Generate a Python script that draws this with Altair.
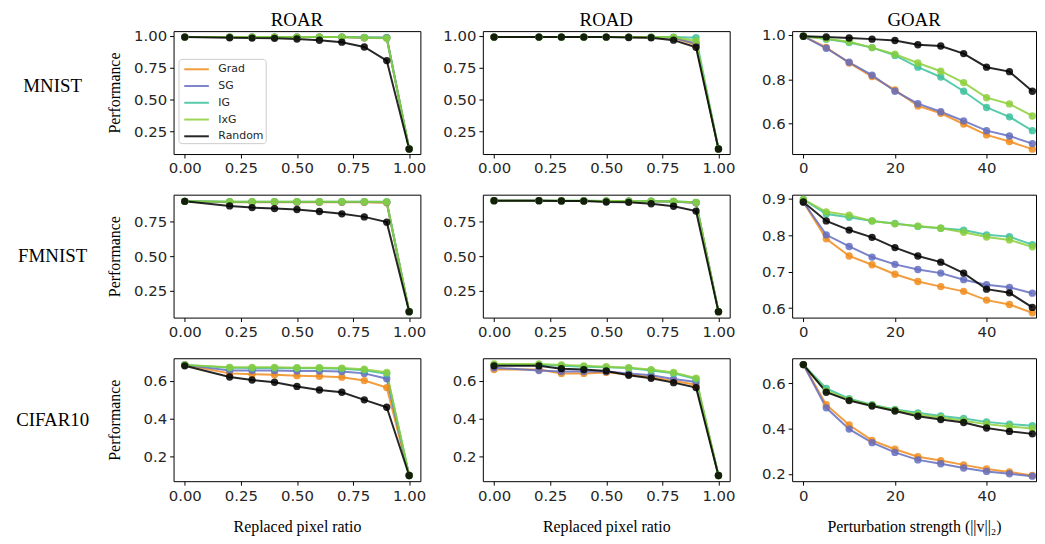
import altair as alt
import pandas as pd

SERIF = "Liberation Serif"
SANS = "DejaVu Sans"

methods = ["Grad", "SG", "IG", "IxG", "Random"]
method_colors = ["#f08c1c", "#646dc0", "#3cc19d", "#8ccf3a", "#000000"]

ratio = [0.0, 0.2, 0.3, 0.4, 0.5, 0.6, 0.7, 0.8, 0.9, 1.0]
strength = [0, 5, 10, 15, 20, 25, 30, 35, 40, 45, 50]

row_names = ["MNIST", "FMNIST", "CIFAR10"]
col_names = ["ROAR", "ROAD", "GOAR"]
x_titles = ["Replaced pixel ratio", "Replaced pixel ratio", "Perturbation strength (||v||\u2082)"]
y_title = "Performance"

ratio_ticks = [0.0, 0.25, 0.5, 0.75, 1.0]
strength_ticks = [0, 20, 40]
mnist_ticks = [0.25, 0.5, 0.75, 1.0]
fmnist_ticks = [0.25, 0.5, 0.75]
cifar_ticks = [0.2, 0.4, 0.6]
mnist_goar_ticks = [0.6, 0.8, 1.0]
fmnist_goar_ticks = [0.6, 0.7, 0.8, 0.9]
cifar_goar_ticks = [0.2, 0.4, 0.6]

mnist_roar = {
    "Grad":   [0.99, 0.99, 0.99, 0.99, 0.99, 0.99, 0.99, 0.985, 0.985, 0.11],
    "SG":     [0.99, 0.99, 0.99, 0.99, 0.99, 0.99, 0.99, 0.985, 0.985, 0.11],
    "IG":     [0.99, 0.99, 0.99, 0.99, 0.99, 0.99, 0.99, 0.988, 0.985, 0.11],
    "IxG":    [0.99, 0.99, 0.99, 0.99, 0.99, 0.99, 0.99, 0.985, 0.98, 0.11],
    "Random": [0.99, 0.985, 0.982, 0.98, 0.975, 0.965, 0.95, 0.912, 0.805, 0.11],
}
mnist_road = {
    "Grad":   [0.99, 0.99, 0.99, 0.99, 0.99, 0.99, 0.988, 0.985, 0.93, 0.11],
    "SG":     [0.99, 0.99, 0.99, 0.99, 0.99, 0.99, 0.988, 0.985, 0.94, 0.11],
    "IG":     [0.99, 0.99, 0.99, 0.99, 0.99, 0.99, 0.99, 0.99, 0.985, 0.11],
    "IxG":    [0.99, 0.99, 0.99, 0.99, 0.99, 0.99, 0.99, 0.988, 0.96, 0.11],
    "Random": [0.99, 0.99, 0.99, 0.99, 0.99, 0.987, 0.985, 0.966, 0.91, 0.11],
}
fmnist_roar = {
    "Grad":   [0.895, 0.888, 0.888, 0.888, 0.888, 0.888, 0.888, 0.888, 0.885, 0.10],
    "SG":     [0.895, 0.890, 0.890, 0.890, 0.890, 0.890, 0.890, 0.890, 0.888, 0.10],
    "IG":     [0.895, 0.893, 0.893, 0.893, 0.893, 0.893, 0.893, 0.893, 0.892, 0.10],
    "IxG":    [0.895, 0.892, 0.892, 0.892, 0.892, 0.892, 0.892, 0.892, 0.890, 0.10],
    "Random": [0.895, 0.862, 0.850, 0.843, 0.836, 0.822, 0.805, 0.783, 0.745, 0.10],
}
fmnist_road = {
    "Grad":   [0.900, 0.900, 0.898, 0.898, 0.897, 0.896, 0.895, 0.894, 0.885, 0.10],
    "SG":     [0.900, 0.900, 0.898, 0.898, 0.897, 0.896, 0.895, 0.892, 0.885, 0.10],
    "IG":     [0.900, 0.900, 0.900, 0.900, 0.898, 0.897, 0.896, 0.894, 0.888, 0.10],
    "IxG":    [0.900, 0.900, 0.900, 0.899, 0.898, 0.897, 0.896, 0.894, 0.888, 0.10],
    "Random": [0.900, 0.900, 0.898, 0.897, 0.890, 0.888, 0.878, 0.860, 0.825, 0.10],
}
cifar_roar = {
    "Grad":   [0.685, 0.640, 0.635, 0.633, 0.628, 0.625, 0.620, 0.602, 0.565, 0.10],
    "SG":     [0.685, 0.655, 0.655, 0.655, 0.652, 0.652, 0.650, 0.640, 0.612, 0.10],
    "IG":     [0.685, 0.670, 0.668, 0.668, 0.667, 0.667, 0.665, 0.657, 0.638, 0.10],
    "IxG":    [0.685, 0.672, 0.672, 0.672, 0.670, 0.670, 0.668, 0.662, 0.645, 0.10],
    "Random": [0.680, 0.621, 0.605, 0.593, 0.571, 0.552, 0.540, 0.500, 0.461, 0.10],
}
cifar_road = {
    "Grad":   [0.660, 0.660, 0.640, 0.640, 0.645, 0.635, 0.620, 0.600, 0.580, 0.10],
    "SG":     [0.670, 0.655, 0.650, 0.650, 0.650, 0.640, 0.630, 0.610, 0.595, 0.10],
    "IG":     [0.685, 0.685, 0.680, 0.675, 0.672, 0.668, 0.655, 0.640, 0.610, 0.10],
    "IxG":    [0.690, 0.690, 0.685, 0.680, 0.675, 0.670, 0.660, 0.645, 0.615, 0.10],
    "Random": [0.680, 0.680, 0.665, 0.660, 0.653, 0.630, 0.614, 0.591, 0.565, 0.10],
}
mnist_goar = {
    "Grad":   [0.993, 0.943, 0.873, 0.812, 0.752, 0.680, 0.647, 0.599, 0.550, 0.520, 0.486],
    "SG":     [0.993, 0.939, 0.876, 0.818, 0.746, 0.690, 0.654, 0.613, 0.569, 0.545, 0.511],
    "IG":     [0.993, 0.980, 0.965, 0.942, 0.907, 0.854, 0.810, 0.746, 0.673, 0.631, 0.569],
    "IxG":    [0.993, 0.982, 0.968, 0.942, 0.912, 0.873, 0.836, 0.785, 0.717, 0.689, 0.635],
    "Random": [0.993, 0.990, 0.985, 0.980, 0.974, 0.955, 0.949, 0.915, 0.854, 0.834, 0.746],
}
fmnist_goar = {
    "Grad":   [0.891, 0.790, 0.743, 0.719, 0.693, 0.673, 0.659, 0.646, 0.622, 0.610, 0.587],
    "SG":     [0.891, 0.801, 0.769, 0.740, 0.720, 0.706, 0.696, 0.678, 0.664, 0.657, 0.641],
    "IG":     [0.898, 0.858, 0.849, 0.839, 0.832, 0.824, 0.819, 0.814, 0.801, 0.796, 0.774],
    "IxG":    [0.898, 0.864, 0.855, 0.839, 0.831, 0.825, 0.819, 0.808, 0.795, 0.787, 0.768],
    "Random": [0.891, 0.839, 0.814, 0.794, 0.766, 0.743, 0.726, 0.696, 0.652, 0.642, 0.602],
}
cifar_goar = {
    "Grad":   [0.683, 0.506, 0.416, 0.348, 0.309, 0.276, 0.259, 0.240, 0.222, 0.209, 0.193],
    "SG":     [0.683, 0.492, 0.398, 0.338, 0.295, 0.262, 0.245, 0.226, 0.211, 0.201, 0.190],
    "IG":     [0.683, 0.578, 0.532, 0.506, 0.485, 0.470, 0.456, 0.445, 0.430, 0.420, 0.413],
    "IxG":    [0.683, 0.567, 0.528, 0.504, 0.482, 0.463, 0.449, 0.435, 0.420, 0.410, 0.401],
    "Random": [0.683, 0.561, 0.524, 0.500, 0.478, 0.455, 0.440, 0.427, 0.403, 0.388, 0.377],
}

W_RATIO = 249
W_GOAR = 246
H = 124
ROW_LABEL_Y = [55, 62, 62]
ratio_domain = [-0.05, 1.05]
strength_domain = [-2.45, 50.8]

panels_spec = [
    (mnist_roar, ratio, ratio_domain, [0.07, 1.037], ratio_ticks, ".2f", mnist_ticks, ".2f"),
    (mnist_road, ratio, ratio_domain, [0.07, 1.037], ratio_ticks, ".2f", mnist_ticks, ".2f"),
    (mnist_goar, strength, strength_domain, [0.464, 1.016], strength_ticks, "d", mnist_goar_ticks, ".1f"),
    (fmnist_roar, ratio, ratio_domain, [0.057, 0.943], ratio_ticks, ".2f", fmnist_ticks, ".2f"),
    (fmnist_road, ratio, ratio_domain, [0.057, 0.943], ratio_ticks, ".2f", fmnist_ticks, ".2f"),
    (fmnist_goar, strength, strength_domain, [0.574, 0.911], strength_ticks, "d", fmnist_goar_ticks, ".1f"),
    (cifar_roar, ratio, ratio_domain, [0.07, 0.72], ratio_ticks, ".2f", cifar_ticks, ".1f"),
    (cifar_road, ratio, ratio_domain, [0.07, 0.72], ratio_ticks, ".2f", cifar_ticks, ".1f"),
    (cifar_goar, strength, strength_domain, [0.168, 0.711], strength_ticks, "d", cifar_goar_ticks, ".1f"),
]


def panel(idx, series, xs, xdom, ydom, xticks, xfmt, yticks, yfmt):
    r, c = divmod(idx, 3)
    w = W_GOAR if c == 2 else W_RATIO
    rows = []
    for k, m in enumerate(methods):
        for x, v in zip(xs, series[m]):
            rows.append({"x": x, "v": v, "method": m, "k": k})
    df = pd.DataFrame(rows)

    xaxis = dict(values=xticks, format=xfmt, labelFlush=False, labelOverlap=False)
    if r == 2:
        xaxis.update(title=x_titles[c], titleFont=SERIF, titleFontSize=16,
                     titleFontWeight="normal", titleColor="black",
                     titleY=46, titleBaseline="middle")
    else:
        xaxis.update(title=None)
    yaxis = dict(values=yticks, format=yfmt, labelOverlap=False)
    if c == 0:
        yaxis.update(title=y_title, titleFont=SERIF, titleFontSize=16,
                     titleFontWeight="normal", titleColor="black",
                     titleX=-60, titleBaseline="middle")
    else:
        yaxis.update(title=None)

    if idx == 0:
        leg = alt.Legend(title=None, orient="none", legendX=5, legendY=28,
                         symbolType="M-1.55,0H1.55", symbolSize=256,
                         symbolStrokeWidth=2, symbolOffset=7.7,
                         labelOffset=13, labelFont=SANS, labelFontSize=11,
                         labelColor="#262626", padding=1.5, rowPadding=2.9,
                         strokeColor="#cccccc", cornerRadius=3,
                         fillColor="white")
    else:
        leg = None

    base = alt.Chart(df).mark_line(
        strokeWidth=2, opacity=0.85,
        point=alt.OverlayMarkDef(filled=True, size=55, opacity=0.85),
    ).encode(
        x=alt.X("x:Q", scale=alt.Scale(domain=xdom, nice=False, zero=False),
                axis=alt.Axis(**xaxis)),
        y=alt.Y("v:Q", scale=alt.Scale(domain=ydom, nice=False, zero=False),
                axis=alt.Axis(**yaxis)),
        color=alt.Color("method:N",
                        scale=alt.Scale(domain=methods, range=method_colors),
                        legend=leg),
        order="k:Q",
    )
    layers = [base]
    if c == 0:
        lab = alt.Chart(pd.DataFrame({"t": [row_names[r]]})).mark_text(
            font=SERIF, fontSize=19, color="black", align="center",
            baseline="middle",
        ).encode(text="t:N", x=alt.value(-122), y=alt.value(ROW_LABEL_Y[r]))
        layers.append(lab)
    if r == 0:
        ttl = alt.Chart(pd.DataFrame({"t": [col_names[c]]})).mark_text(
            font=SERIF, fontSize=19, color="black", align="center",
            baseline="alphabetic",
        ).encode(text="t:N", x=alt.value(w / 2), y=alt.value(-5))
        layers.append(ttl)
    return alt.layer(*layers).properties(width=w, height=H)


panels = [panel(i, *spec) for i, spec in enumerate(panels_spec)]

chart = alt.concat(
    *panels, columns=3, spacing={"row": 41, "column": 63}, bounds="flush",
    align="each",
).resolve_scale(
    x="independent", y="independent", color="independent"
).properties(
    padding={"left": 7, "top": 0, "right": 0, "bottom": 0},
    background="white",
).configure_view(
    stroke="black", strokeWidth=1
).configure_axis(
    labelFont=SANS, labelFontSize=15, labelColor="#262626",
    tickColor="black", tickSize=4, tickWidth=1, labelPadding=3,
    domain=False, grid=False,
)

chart.save("out.html", embed_options={"renderer": "svg", "actions": False})
